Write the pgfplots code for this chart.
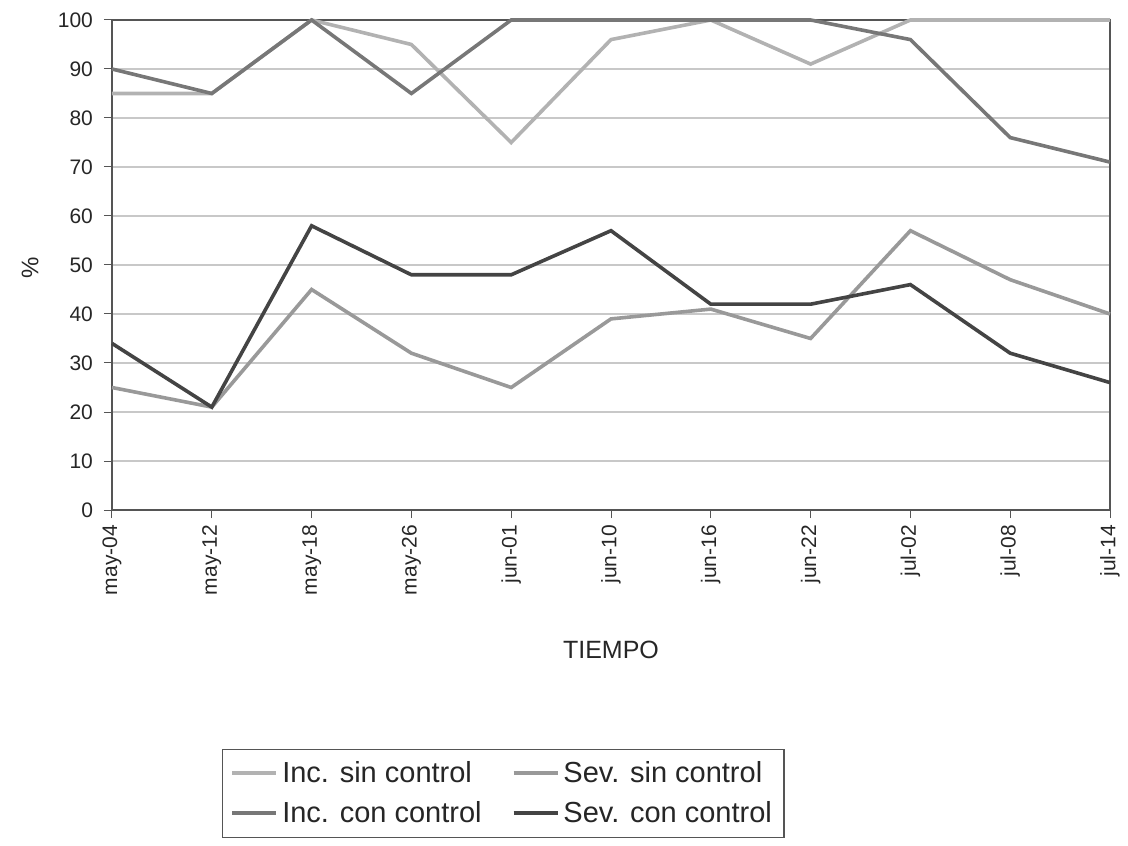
\documentclass[border=0pt]{standalone}
\usepackage{pgfplots}
\pgfplotsset{compat=1.18}
\usepackage{fontspec}
\setmainfont{Liberation Sans}

\definecolor{incsin}{HTML}{B2B2B2}
\definecolor{sevsin}{HTML}{999999}
\definecolor{inccon}{HTML}{777777}
\definecolor{sevcon}{HTML}{444444}
\definecolor{gridc}{HTML}{C8C8C8}
\definecolor{framec}{HTML}{555555}

\pgfplotstableread{
x incsin inccon sevsin sevcon
0  85  90 25 34
1  85  85 21 21
2  100 100 45 58
3  95  85 32 48
4  75  100 25 48
5  96  100 39 57
6  100 100 41 42
7  91  100 35 42
8  100 96 57 46
9  100 76 47 32
10 100 71 40 26
}\datos

\begin{document}
\begin{tikzpicture}
\path[use as bounding box] (-56pt,-167.5pt) rectangle (508pt,255pt);
\begin{axis}[
  at={(0,0)}, anchor=origin,
  scale only axis,
  width=499pt, height=245pt,
  xmin=0, xmax=10, ymin=0, ymax=100,
  xtick={0,...,10},
  xticklabels={may-04,may-12,may-18,may-26,jun-01,jun-10,jun-16,jun-22,jul-02,jul-08,jul-14},
  ytick={0,10,...,100},
  tick align=outside,
  major tick length=4pt,
  xtick pos=bottom, ytick pos=left,
  tick style={color=framec, line width=0.5pt},
  ymajorgrids,
  grid style={color=gridc, line width=0.7pt},
  axis line style={color=framec, line width=1pt},
  /pgf/number format/assume math mode=true,
  xticklabel style={rotate=90, anchor=east, font=\fontsize{10.5}{12}\selectfont, color=black!85},
  yticklabel style={font=\fontsize{10.5}{12}\selectfont, color=black!85, xshift=-2pt},
  xlabel={TIEMPO},
  xlabel style={at={(axis description cs:0.5,-0.286)}, anchor=center, font=\fontsize{12.5}{14}\selectfont, color=black!85},
  ylabel={\%},
  ylabel style={at={(axis description cs:-0.082,0.494)}, anchor=center, font=\fontsize{12}{14}\selectfont, color=black!85},
  clip=false,
  legend columns=2,
  legend cell align=left,
  legend style={
    at={(0.392,-0.578)}, anchor=center,
    draw=framec, line width=0.6pt,
    font=\fontsize{14.5}{17}\selectfont,
    text=black!85,
    row sep=4pt,
    /tikz/every even column/.append style={column sep=13pt},
    inner sep=4pt,
  },
  legend image code/.code={\draw[#1, line width=1.9pt] (0pt,0pt) -- (22pt,0pt);},
]
\addplot[incsin, line width=1.8pt] table[x=x, y=incsin] {\datos};
\addlegendentry{Inc. sin control}
\addplot[sevsin, line width=1.8pt] table[x=x, y=sevsin] {\datos};
\addlegendentry{Sev. sin control}
\addplot[inccon, line width=1.8pt] table[x=x, y=inccon] {\datos};
\addlegendentry{Inc. con control}
\addplot[sevcon, line width=1.8pt] table[x=x, y=sevcon] {\datos};
\addlegendentry{Sev. con control}
\end{axis}
\end{tikzpicture}
\end{document}
